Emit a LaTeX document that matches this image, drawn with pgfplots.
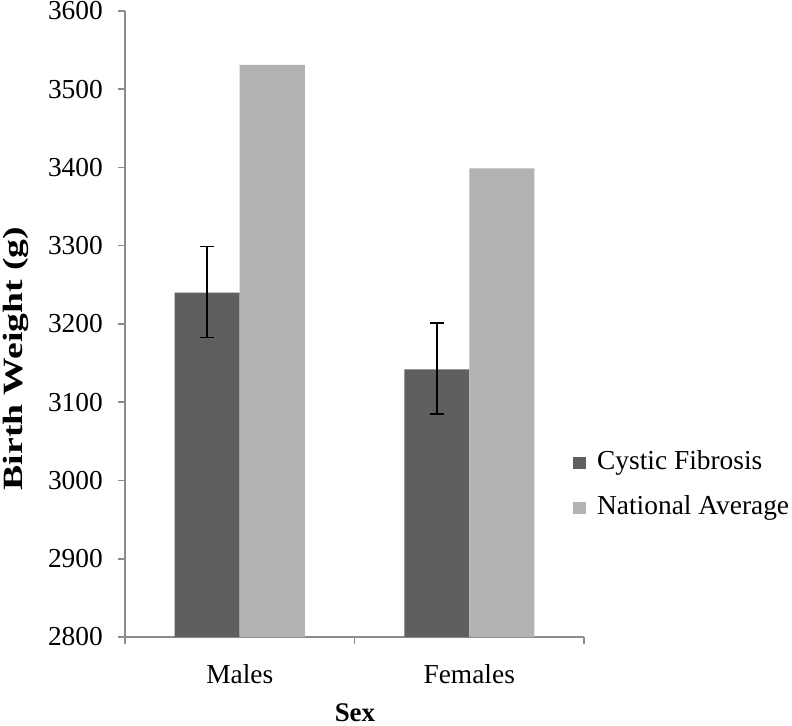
\documentclass[border=0pt]{standalone}
\usepackage{fontspec}
\setmainfont{Liberation Serif}
\newfontfamily\lblfont[FakeStretch=1.35]{Liberation Serif}
\usepackage{pgfplots}
\pgfplotsset{compat=1.18}
\definecolor{cfdark}{HTML}{5F5F5F}
\definecolor{nalight}{HTML}{B2B2B2}
\definecolor{axgray}{HTML}{8C8C8C}
\begin{document}
\begin{tikzpicture}
\useasboundingbox (-125bp,-89bp) rectangle (667bp,637bp);
\begin{axis}[
  at={(0,0)}, anchor=south west,
  scale only axis, width=459bp, height=626bp,
  xmin=-0.5, xmax=1.5, ymin=2800, ymax=3600,
  ytick={2800,2900,3000,3100,3200,3300,3400,3500,3600},
  yticklabels={2800,2900,3000,3100,3200,3300,3400,3500,3600},
  xtick={-0.5,0.5,1.5}, xticklabels={,,},
  extra x ticks={0,1}, extra x tick labels={Males,Females},
  extra x tick style={major tick length=0pt},
  major tick length=7bp, tick align=outside,
  axis x line*=bottom, axis y line*=left,
  axis line style={axgray, line width=1.5bp, -},
  tick style={axgray, line width=1.5bp},
  font=\fontsize{27}{30}\selectfont,
  ticklabel style={font=\fontsize{27.5}{30}\selectfont},
  yticklabel style={anchor=east, inner sep=0pt, xshift=-15bp},
  xticklabel style={anchor=base, inner sep=0pt, yshift=-46bp},
  xlabel={\bfseries Sex},
  xlabel style={at={(axis description cs:0.501,-0.121)}, anchor=center,
    font=\fontsize{27}{30}\selectfont},
  ylabel={\lblfont\bfseries Birth Weight (g)},
  ylabel style={at={(axis description cs:-0.237,0.445)}, anchor=center,
    font=\fontsize{28}{30}\selectfont},
  ybar, bar width=65bp,
  legend cell align=left,
  legend image code/.code={\fill[#1] (0bp,-6bp) rectangle (13bp,6bp);},
  legend style={draw=none, fill=none, inner sep=0pt,
    at={(axis description cs:0.976,0.242)}, anchor=west,
    font=\fontsize{27.5}{30}\selectfont,
    nodes={inner sep=0pt, text height=18bp, text depth=6bp},
    row sep=21bp, column sep=11bp},
]
\addplot[ybar, bar shift=-32.5bp, fill=cfdark, draw=none,
  error bars/.cd, y dir=both, y explicit,
  error bar style={black, line width=1.5bp},
  error mark options={rotate=90, mark size=7bp, black, line width=1.5bp}]
  coordinates {(0,3240) += (0,59) -= (0,57) (1,3142) += (0,59) -= (0,57)};
\addplot[ybar, bar shift=32.5bp, fill=nalight, draw=none]
  coordinates {(0,3531) (1,3399)};
\legend{Cystic Fibrosis, National Average}
\end{axis}
\end{tikzpicture}
\end{document}
